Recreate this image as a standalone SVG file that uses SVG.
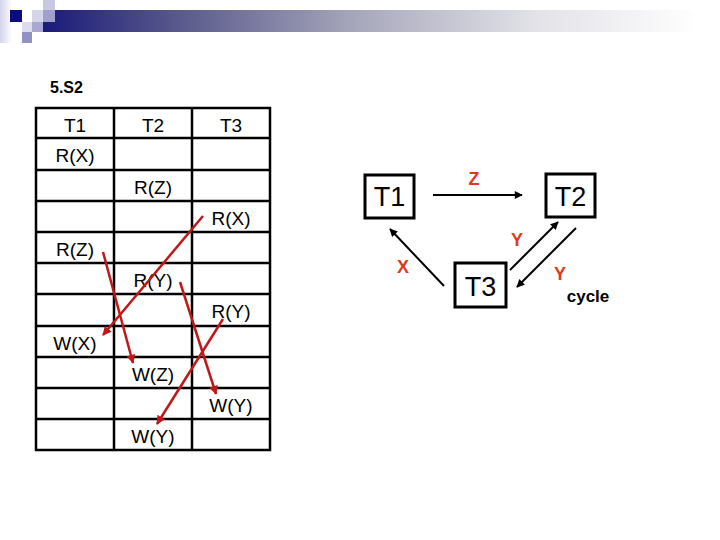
<svg xmlns="http://www.w3.org/2000/svg" width="720" height="540" viewBox="0 0 720 540">
<style>
.cell{font-family:"Liberation Sans",Arial,sans-serif;font-size:19px;fill:#000;text-anchor:middle}
.grid{stroke:#000;stroke-width:2.5;fill:none}
.node rect{fill:#fff;stroke:#000;stroke-width:3}
.node text{font-family:"Liberation Sans",Arial,sans-serif;font-size:27px;fill:#000;text-anchor:middle}
.lbl{font-family:"Liberation Sans",Arial,sans-serif;font-size:18px;font-weight:bold;fill:#e03a1a;text-anchor:middle}
.edge{stroke:#000;stroke-width:2;fill:none}
.red{stroke:#c01818;stroke-width:2.5;fill:none}
</style>
<defs>
<linearGradient id="bar" x1="0" y1="0" x2="1" y2="0">
<stop offset="0" stop-color="#1a1a7a"/>
<stop offset="0.21" stop-color="#5a5a8c"/>
<stop offset="0.48" stop-color="#a8a8bc"/>
<stop offset="0.75" stop-color="#e2e2e8"/>
<stop offset="1" stop-color="#ffffff"/>
</linearGradient>
<linearGradient id="side" x1="0" y1="0" x2="1" y2="0">
<stop offset="0" stop-color="#d4d4ec"/>
<stop offset="1" stop-color="#ffffff"/>
</linearGradient>
<marker id="ah" viewBox="0 0 10 10" refX="9" refY="5" markerWidth="10" markerHeight="8" markerUnits="userSpaceOnUse" orient="auto">
<path d="M0,0 L10,5 L0,10 z" fill="#000"/>
</marker>
<marker id="ahr" viewBox="0 0 10 10" refX="9" refY="5" markerWidth="11" markerHeight="9" markerUnits="userSpaceOnUse" orient="auto">
<path d="M0,0 L10,5 L0,10 z" fill="#c01818"/>
</marker>
</defs>

<g id="header">
<rect x="0" y="0" width="12" height="43" fill="url(#side)"/>
<rect x="43" y="10" width="657" height="22" fill="url(#bar)"/>
<rect x="10" y="10" width="12" height="12" fill="#0c0c80"/>
<rect x="43" y="0" width="12" height="10" fill="#c8c8e2"/>
<rect x="32" y="10" width="11" height="12" fill="#d4d4ea"/>
<rect x="43" y="10" width="12" height="12" fill="#a0a0cc"/>
<rect x="22" y="22" width="10" height="10" fill="#dcdcee"/>
<rect x="32" y="22" width="11" height="10" fill="#a8a8d2"/>
<rect x="22" y="32" width="10" height="11" fill="#9292c2"/>
</g>

<text x="50" y="93" font-family="Liberation Sans,Arial,sans-serif" font-size="16" font-weight="bold">5.S2</text>

<g id="table">
<rect class="grid" x="36" y="108" width="234" height="342"/>
<path class="grid" d="M114,108V450M192,108V450M36,138H270M36,170H270M36,201H270M36,232H270M36,263H270M36,294H270M36,326H270M36,357H270M36,388H270M36,419H270"/>
<text class="cell" x="75" y="132">T1</text>
<text class="cell" x="153" y="132">T2</text>
<text class="cell" x="231" y="132">T3</text>
<text class="cell" x="75" y="162">R(X)</text>
<text class="cell" x="153" y="194">R(Z)</text>
<text class="cell" x="231" y="225">R(X)</text>
<text class="cell" x="75" y="256">R(Z)</text>
<text class="cell" x="153" y="287">R(Y)</text>
<text class="cell" x="231" y="318">R(Y)</text>
<text class="cell" x="75" y="350">W(X)</text>
<text class="cell" x="153" y="381">W(Z)</text>
<text class="cell" x="231" y="412">W(Y)</text>
<text class="cell" x="153" y="443">W(Y)</text>
</g>

<g id="table-arrows">
<line class="red" x1="203" y1="216" x2="103" y2="335" marker-end="url(#ahr)"/>
<line class="red" x1="103" y1="252" x2="133" y2="363" marker-end="url(#ahr)"/>
<line class="red" x1="180" y1="282" x2="216" y2="394" marker-end="url(#ahr)"/>
<line class="red" x1="223" y1="319" x2="157" y2="424" marker-end="url(#ahr)"/>
</g>

<g id="connectors">
<line class="edge" x1="433" y1="195" x2="522" y2="195" marker-end="url(#ah)"/>
<line class="edge" x1="444" y1="286" x2="390" y2="229" marker-end="url(#ah)"/>
<line class="edge" x1="510" y1="270" x2="558" y2="222" marker-end="url(#ah)"/>
<line class="edge" x1="576" y1="228" x2="517" y2="287" marker-end="url(#ah)"/>
<text class="lbl" x="474" y="185">Z</text>
<text class="lbl" x="403" y="273">X</text>
<text class="lbl" x="517" y="246">Y</text>
<text class="lbl" x="560" y="280">Y</text>
</g>

<g id="node-T1" class="node">
<rect x="365" y="175" width="49" height="43"/>
<text x="389.5" y="206">T1</text>
</g>
<g id="node-T2" class="node">
<rect x="546" y="174" width="49" height="43"/>
<text x="570.5" y="206">T2</text>
</g>
<g id="node-T3" class="node">
<rect x="455" y="263" width="51" height="44"/>
<text x="480.5" y="296">T3</text>
</g>

<text x="588" y="302" font-family="Liberation Sans,Arial,sans-serif" font-size="17" font-weight="bold" text-anchor="middle">cycle</text>
</svg>
